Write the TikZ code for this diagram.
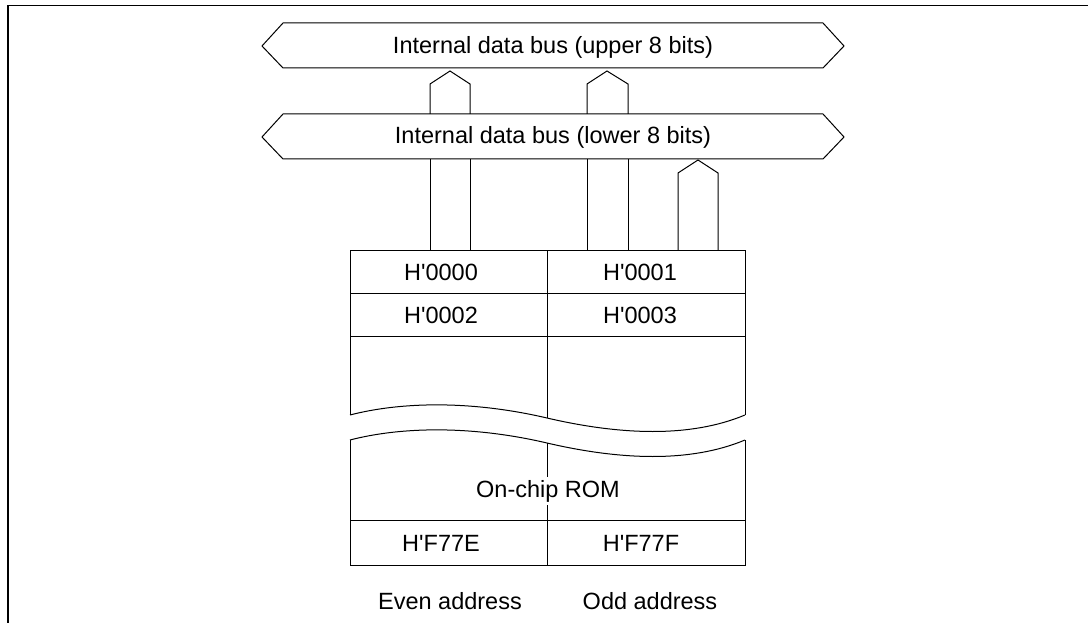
\documentclass[tikz,border=0pt]{standalone}
\usepackage{fontspec}
\setmainfont{Liberation Sans}
\newcommand{\sq}{\textquotesingle}
\begin{document}
\begin{tikzpicture}[x=1pt,y=-1pt,
  ln/.style={draw=black,line width=1.0pt,line join=miter},
  lbl/.style={font=\fontsize{23.5}{28}\selectfont,inner sep=1pt,anchor=center},
  cover/.style={lbl,fill=white,inner xsep=0pt,inner ysep=3pt}]
\useasboundingbox (0,0) rectangle (1088,623);
% frame
\draw[line width=1.6pt] (8,623) -- (8,5.5) -- (1088,5.5);
% buses
\draw[ln] (262,46) -- (283,23) -- (823,23) -- (844,46) -- (823,68) -- (283,68) -- cycle;
\draw[ln] (262,137) -- (283,114) -- (823,114) -- (844,137) -- (823,159) -- (283,159) -- cycle;
\node[lbl] (busU) at (553,47) {Internal data bus (upper 8 bits)};
\node[lbl] (busL) at (553,137) {Internal data bus (lower 8 bits)};
% stubs between buses
\draw[ln] (430,114) -- (430,84) -- (450,71) -- (470,84) -- (470,114);
\draw[ln] (587,114) -- (587,84) -- (607,71) -- (628,84) -- (628,114);
% lines from lower bus to memory
\draw[ln] (430,159) -- (430,250);
\draw[ln] (470,159) -- (470,250);
\draw[ln] (587,159) -- (587,250);
\draw[ln] (628,159) -- (628,250);
% stub from memory to lower bus
\draw[ln] (678,250) -- (678,173) -- (698,160) -- (718,173) -- (718,250);
% memory upper part
\draw[ln] (350,415) -- (350,250) -- (745,250) -- (745,415);
\draw[ln] (350,415) .. controls (400,402) and (470,400) .. (547,418)
   .. controls (620,435) and (690,438) .. (745,415);
\draw[ln] (350,293) -- (745,293);
\draw[ln] (350,336) -- (745,336);
\draw[ln] (547,250) -- (547,418);
% memory lower part
\draw[ln] (350,440) .. controls (400,427) and (470,425) .. (547,443)
   .. controls (620,460) and (690,463) .. (745,440);
\draw[ln] (350,440) -- (350,565) -- (745,565) -- (745,440);
\draw[ln] (350,520) -- (745,520);
\draw[ln] (547,443) -- (547,565);
% texts
\node[lbl] (a0) at (441,272) {H\sq 0000};
\node[lbl] (a1) at (640,272) {H\sq 0001};
\node[lbl] (a2) at (441,315) {H\sq 0002};
\node[lbl] (a3) at (640,315) {H\sq 0003};
\node[cover] (rom) at (548,491) {On-chip ROM};
\node[lbl] (ae) at (441,543) {H\sq F77E};
\node[lbl] (af) at (641,543) {H\sq F77F};
\node[lbl] (even) at (450,601) {Even address};
\node[lbl] (odd) at (650,601) {Odd address};
\end{tikzpicture}
\end{document}
